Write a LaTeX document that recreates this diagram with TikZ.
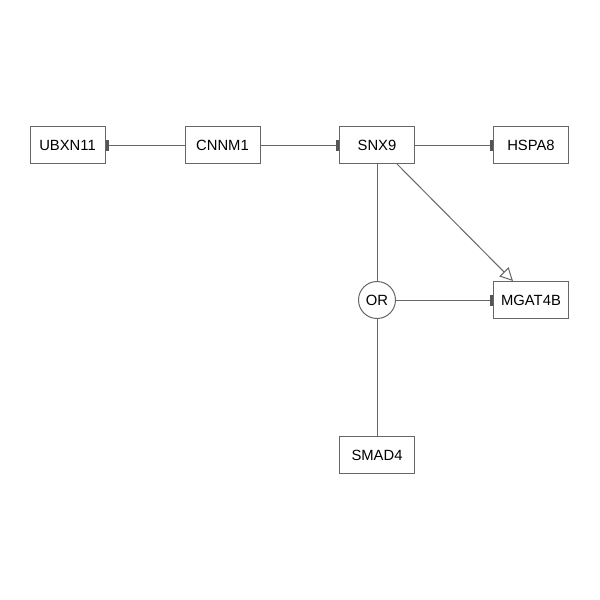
\documentclass[tikz,border=0pt]{standalone}
\usepackage{fontspec}
\setmainfont{Liberation Sans}
\usetikzlibrary{arrows.meta}
\definecolor{edgec}{HTML}{666666}
\definecolor{teec}{HTML}{555555}
\tikzset{
  gene/.style={draw=edgec, line width=1pt, minimum width=75pt, minimum height=37pt, inner sep=0pt, font=\fontsize{14.8pt}{17pt}\selectfont, fill=white},
  ornode/.style={draw=edgec, line width=1pt, circle, minimum size=37pt, inner sep=0pt, font=\fontsize{14.8pt}{17pt}\selectfont, fill=white},
  link/.style={draw=edgec, line width=1pt},
  inhib/.style={link, -{Rectangle[length=3.5pt,width=11pt,fill=teec,color=teec]}},
  activ/.style={link, -{Triangle[open,length=13pt,width=13pt,color=edgec,fill=white]}}
}
\begin{document}
\begin{tikzpicture}[x=1pt,y=-1pt]
\useasboundingbox (0,0) rectangle (600,600);
\node[gene] (ubxn) at (67.5,145) {UBXN11};
\node[gene] (cnnm) at (222.5,145) {CNNM1};
\node[gene] (snx) at (377,145) {SNX9};
\node[gene] (hspa) at (531,145) {HSPA8};
\node[gene] (mgat) at (531,300) {MGAT4B};
\node[ornode] (or) at (377,300) {OR};
\node[gene] (smad) at (377,455) {SMAD4};
\draw[inhib] (cnnm) -- (ubxn);
\draw[inhib] (cnnm) -- (snx);
\draw[inhib] (snx) -- (hspa);
\draw[link] (snx) -- (or);
\draw[link] (smad) -- (or);
\draw[inhib] (or) -- (mgat);
\draw[activ] ([xshift=20pt]snx.south) -- ([xshift=-18pt]mgat.north);
\end{tikzpicture}
\end{document}
